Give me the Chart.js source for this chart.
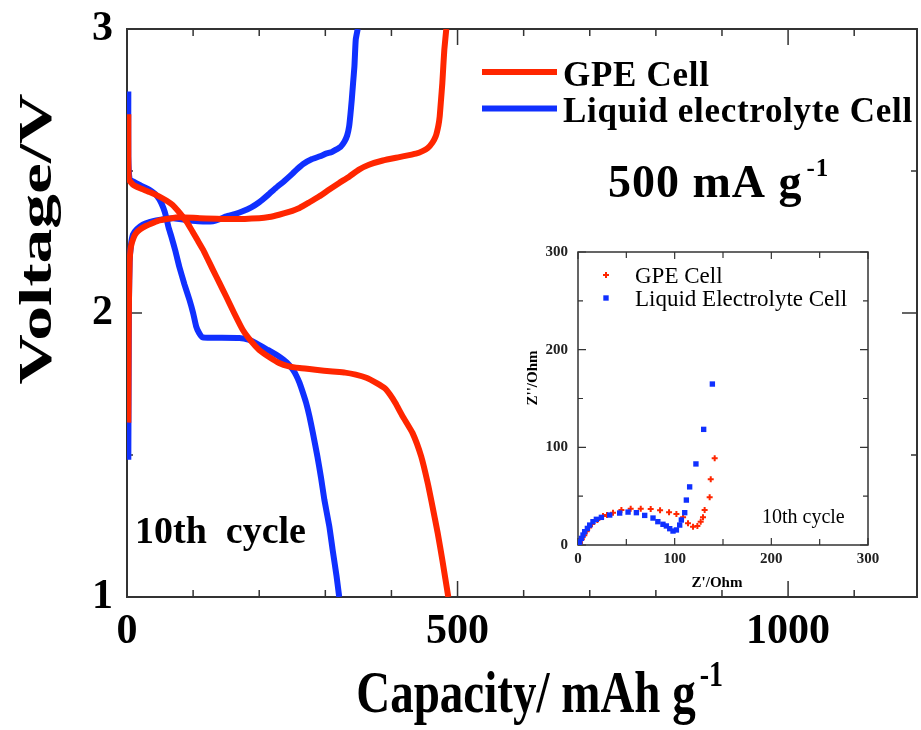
<!DOCTYPE html>
<html>
<head>
<meta charset="utf-8">
<title>GPE cell vs liquid electrolyte cell</title>
<script src="https://cdn.jsdelivr.net/npm/chart.js@4.4.1/dist/chart.umd.min.js"></script>
<style>
  html, body { margin: 0; padding: 0; background: #fff; }
  #wrap { position: relative; width: 921px; height: 730px; }
  #main { position: absolute; left: 0; top: 0; }
  #inset { position: absolute; left: 515px; top: 235px; }
</style>
</head>
<body>
<div id="wrap">
  <canvas id="main" width="921" height="730"></canvas>
  <canvas id="inset" width="375" height="370"></canvas>
</div>
<script>
var SERIF = '"Liberation Serif", "Times New Roman", serif';
var RED = '#ff2600';
var BLUE = '#1030ff';

// 10th cycle profiles at 500 mA/g (capacity mAh/g, voltage V)
var gpeDisCap = [2, 2, 3, 10, 19, 35, 49, 60, 69, 77, 84, 92, 99, 107, 115, 122, 130, 140, 150, 162, 175, 188, 200, 215, 230, 245, 261, 285, 311, 330, 346, 362, 377, 390, 398, 406, 417, 432, 445, 455, 462, 470, 477, 486];
var gpeDisV = [2.70, 2.55, 2.47, 2.45, 2.44, 2.425, 2.41, 2.395, 2.38, 2.36, 2.34, 2.315, 2.287, 2.255, 2.223, 2.19, 2.152, 2.105, 2.058, 2.0, 1.941, 1.90, 1.87, 1.845, 1.824, 1.812, 1.806, 1.80, 1.794, 1.79, 1.783, 1.772, 1.754, 1.735, 1.712, 1.683, 1.636, 1.577, 1.495, 1.40, 1.32, 1.225, 1.13, 1.0];
var gpeChgCap = [2, 2.5, 3, 4, 6, 10, 14, 20, 29, 40, 49, 65, 79, 110, 160, 200, 215, 230, 245, 261, 276, 291, 306, 321, 336, 351, 366, 387, 412, 437, 447, 455, 462, 467, 471, 473, 475, 477, 478.5, 480, 483];
var gpeChgV = [1.614, 1.9, 2.047, 2.18, 2.234, 2.265, 2.282, 2.295, 2.307, 2.318, 2.326, 2.333, 2.337, 2.334, 2.331, 2.334, 2.338, 2.346, 2.356, 2.37, 2.39, 2.411, 2.435, 2.458, 2.48, 2.505, 2.522, 2.537, 2.549, 2.561, 2.57, 2.581, 2.60, 2.622, 2.66, 2.692, 2.75, 2.81, 2.87, 2.927, 3.0];

var liqDisCap = [2, 2, 4, 9, 20, 34, 42, 49, 55, 59, 63, 67, 73, 79, 87, 94.5, 100, 104.6, 109, 114.6, 135, 170, 185, 195, 213, 230, 242, 251, 256, 261, 266, 271, 276, 281, 288, 293.5, 298.5, 306, 311, 317, 321];
var liqDisV = [2.78, 2.55, 2.47, 2.463, 2.45, 2.434, 2.42, 2.40, 2.37, 2.34, 2.30, 2.27, 2.22, 2.164, 2.10, 2.046, 2.0, 1.953, 1.93, 1.914, 1.913, 1.912, 1.905, 1.894, 1.87, 1.847, 1.825, 1.80, 1.78, 1.754, 1.72, 1.683, 1.636, 1.58, 1.495, 1.42, 1.343, 1.249, 1.167, 1.073, 1.0];
var liqChgCap = [2, 2.5, 3, 4, 6, 9, 15, 24, 34, 44, 69, 99, 115, 130, 140, 150, 163, 175, 188, 200, 213, 225, 238, 250, 258, 266, 280, 292, 301, 310, 316, 323, 329, 333, 336, 338, 340, 342, 344, 346, 349];
var liqChgV = [1.483, 1.8, 2.047, 2.18, 2.24, 2.276, 2.295, 2.311, 2.32, 2.326, 2.334, 2.325, 2.322, 2.323, 2.33, 2.34, 2.348, 2.358, 2.372, 2.39, 2.415, 2.44, 2.465, 2.49, 2.508, 2.524, 2.542, 2.552, 2.561, 2.567, 2.575, 2.585, 2.604, 2.625, 2.657, 2.70, 2.751, 2.81, 2.868, 2.962, 3.0];

// Nyquist plot after 10 cycles (Z' and -Z'' in Ohm)
var gpeZre = [2, 4, 6.5, 9, 11.5, 14.5, 20, 25.9, 30, 36.2, 44.9, 54.5, 64.9, 75.2, 84.9, 94.2, 101.8, 108.7, 113.8, 119, 123.5, 126.9, 129.3, 131, 136.2, 137.3, 141.4];
var gpeZim = [2, 6, 10, 14, 18, 21.5, 25.5, 29.7, 30.7, 33.1, 35.8, 37.2, 37.2, 36.9, 35.5, 33.5, 31.7, 28.3, 22.2, 18.8, 19.5, 23.9, 28.3, 35.8, 48.8, 67.2, 88.7];
var liqZre = [1, 1.8, 3.5, 5.2, 6.9, 9.7, 12.1, 15.5, 19, 24.2, 32.8, 43.1, 51.8, 60.4, 69, 77.6, 82.6, 87.9, 91.4, 94.9, 98.3, 101.8, 105.2, 106.9, 110.4, 112.1, 115.5, 122, 130, 139];
var liqZim = [1, 3.4, 6.8, 10.2, 13.6, 17, 20.4, 23.9, 26.3, 28.3, 30.7, 32.7, 33.7, 33.1, 30.3, 27.6, 23.9, 21.2, 19.5, 16.7, 14.3, 15.4, 20.4, 25.6, 33.1, 46, 59.5, 83, 118.4, 164.8];

// tick labels
var capTicks = [0, 500, 1000];
var voltTicks = [1, 2, 3];
var impTicks = [0, 100, 200, 300];

function pts(xs, ys) {
  return xs.map(function (x, i) { return { x: x, y: ys[i] }; });
}

function isMultiple(v, step) {
  var r = v / step;
  return Math.abs(r - Math.round(r)) < 1e-6;
}

function setTicks(list) {
  return function (scale) {
    scale.ticks = list.map(function (v) { return { value: v }; });
  };
}

// fixed axis box sizes, no extra room for overhanging labels
function fitWidth(w) {
  return function (s) { s.width = w; s.paddingTop = 0; s.paddingBottom = 0; };
}
function fitHeight(h) {
  return function (s) { s.height = h; s.paddingLeft = 0; s.paddingRight = 0; };
}

// box around the plot area with inward ticks on all four sides
var framePlugin = {
  id: 'frame',
  beforeDatasetsDraw: function (chart, args, o) {
    var ctx = chart.ctx, a = chart.chartArea;
    var sx = chart.scales.x, sy = chart.scales.y;
    var v, p, len;
    ctx.save();
    ctx.strokeStyle = o.color;
    ctx.lineWidth = o.width;
    ctx.strokeRect(a.left, a.top, a.right - a.left, a.bottom - a.top);
    ctx.lineWidth = o.tickWidth;
    ctx.beginPath();
    for (v = sx.min; v <= sx.max + 1e-9; v += o.xMinor) {
      p = sx.getPixelForValue(v);
      len = isMultiple(v, o.xMajor) ? o.xMajorLen : o.xMinorLen;
      ctx.moveTo(p, a.bottom); ctx.lineTo(p, a.bottom - len);
      ctx.moveTo(p, a.top); ctx.lineTo(p, a.top + len);
    }
    for (v = sy.min; v <= sy.max + 1e-9; v += o.yMinor) {
      p = sy.getPixelForValue(v);
      len = isMultiple(v, o.yMajor) ? o.yMajorLen : o.yMinorLen;
      ctx.moveTo(a.left, p); ctx.lineTo(a.left + len, p);
      ctx.moveTo(a.right, p); ctx.lineTo(a.right - len, p);
    }
    ctx.stroke();
    ctx.restore();
  }
};

// text with a raised "-1" exponent, left aligned at x
function expText(ctx, base, sup, x, y, size, supSize, rise) {
  ctx.font = 'bold ' + size + 'px ' + SERIF;
  ctx.fillText(base, x, y);
  var w = ctx.measureText(base).width;
  ctx.font = 'bold ' + supSize + 'px ' + SERIF;
  ctx.fillText(sup, x + w + 4, y - rise);
}

var mainNotes = {
  id: 'mainNotes',
  afterDraw: function (chart) {
    var ctx = chart.ctx;
    ctx.save();
    ctx.fillStyle = '#000';
    ctx.textAlign = 'left';
    ctx.textBaseline = 'alphabetic';

    // legend, one entry per cell
    var ly = 72;
    ctx.letterSpacing = '0.7px';
    chart.data.datasets.forEach(function (ds) {
      if (!ds.label) return;
      ctx.strokeStyle = ds.borderColor;
      ctx.lineWidth = 6;
      ctx.beginPath();
      ctx.moveTo(482, ly);
      ctx.lineTo(557, ly);
      ctx.stroke();
      ctx.font = 'bold 35px ' + SERIF;
      ctx.fillText(ds.label, 563, ly + 13.5);
      ly += 36.5;
    });

    ctx.letterSpacing = '1px';
    expText(ctx, '500 mA g', '-1', 608, 197, 46, 25, 21);
    ctx.letterSpacing = '0px';

    ctx.font = 'bold 38px ' + SERIF;
    ctx.fillText('10th  cycle', 135, 543);

    // x axis title, slightly tall lettering
    ctx.save();
    ctx.translate(0, 712);
    ctx.scale(1, 1.25);
    ctx.font = 'bold 47px ' + SERIF;
    var wt = ctx.measureText('Capacity/ mAh g').width;
    expText(ctx, 'Capacity/ mAh g', '-1', 542 - (wt + 32) / 2, 0, 47, 28, 21);
    ctx.restore();

    // y axis title, drawn stretched along its length
    ctx.save();
    ctx.translate(51, 239);
    ctx.rotate(-Math.PI / 2);
    ctx.scale(1.48, 1);
    ctx.textAlign = 'center';
    ctx.font = 'bold 47px ' + SERIF;
    ctx.fillText('Voltage/V', 0, 0);
    ctx.restore();

    ctx.restore();
  }
};

var insetNotes = {
  id: 'insetNotes',
  afterDraw: function (chart) {
    var ctx = chart.ctx;
    ctx.save();
    ctx.fillStyle = '#000';
    ctx.textBaseline = 'alphabetic';

    // legend with the same markers as the data
    var ly = 40;
    chart.data.datasets.slice().reverse().forEach(function (ds) {
      ctx.fillStyle = ds.backgroundColor;
      ctx.strokeStyle = ds.borderColor;
      ctx.lineWidth = ds.borderWidth;
      Chart.helpers.drawPoint(ctx, {
        pointStyle: ds.pointStyle, radius: ds.pointRadius, rotation: 0, borderWidth: ds.borderWidth
      }, 91, ly);
      ctx.fillStyle = '#000';
      ctx.font = '23px ' + SERIF;
      ctx.textAlign = 'left';
      ctx.fillText(ds.label, 120, ly + 8);
      ly += 23;
    });

    ctx.font = '20px ' + SERIF;
    ctx.fillText('10th cycle', 247, 288);

    ctx.font = 'bold 15px ' + SERIF;
    ctx.textAlign = 'center';
    ctx.fillText("Z'/Ohm", 202, 352);

    ctx.save();
    ctx.translate(22, 143);
    ctx.rotate(-Math.PI / 2);
    ctx.fillText("Z''/Ohm", 0, 0);
    ctx.restore();

    ctx.restore();
  }
};

var tickFont = { family: SERIF, size: 42, weight: 'bold' };

new Chart(document.getElementById('main').getContext('2d'), {
  type: 'scatter',
  data: {
    datasets: [
      { label: 'GPE Cell', data: pts(gpeDisCap, gpeDisV), borderColor: RED },
      { data: pts(gpeChgCap, gpeChgV), borderColor: RED },
      { label: 'Liquid electrolyte Cell', data: pts(liqDisCap, liqDisV), borderColor: BLUE },
      { data: pts(liqChgCap, liqChgV), borderColor: BLUE }
    ].map(function (ds) {
      ds.showLine = true;
      ds.borderWidth = 6;
      ds.pointRadius = 0;
      ds.tension = 0.15;
      ds.borderJoinStyle = 'round';
      return ds;
    })
  },
  options: {
    responsive: false,
    animation: false,
    events: [],
    layout: { padding: { top: 29, right: 4, left: 0, bottom: 0 } },
    plugins: {
      legend: { display: false },
      tooltip: { enabled: false },
      frame: {
        color: '#333', width: 2, tickWidth: 1.5,
        xMinor: 100, xMajor: 500, xMinorLen: 7, xMajorLen: 16,
        yMinor: 0.5, yMajor: 1, yMinorLen: 6, yMajorLen: 15
      }
    },
    scales: {
      x: {
        type: 'linear', min: 0, max: 1195,
        afterBuildTicks: setTicks(capTicks),
        afterFit: fitHeight(133),
        grid: { display: false, drawTicks: false },
        border: { display: false },
        ticks: { padding: 10, color: '#000', font: tickFont, maxRotation: 0,
          callback: function (v) { return String(v); } }
      },
      y: {
        type: 'linear', min: 1, max: 3,
        afterBuildTicks: setTicks(voltTicks),
        afterFit: fitWidth(127),
        grid: { display: false, drawTicks: false },
        border: { display: false },
        ticks: { padding: 14, color: '#000', font: tickFont,
          callback: function (v) { return String(v); } }
      }
    }
  },
  plugins: [framePlugin, mainNotes]
});

var insetFont = { family: SERIF, size: 15, weight: 'bold' };

new Chart(document.getElementById('inset').getContext('2d'), {
  type: 'scatter',
  data: {
    datasets: [
      { label: 'Liquid Electrolyte Cell', data: pts(liqZre, liqZim), pointStyle: 'rect',
        pointRadius: 3.8, backgroundColor: BLUE, borderColor: BLUE, borderWidth: 0 },
      { label: 'GPE Cell', data: pts(gpeZre, gpeZim), pointStyle: 'cross',
        pointRadius: 3, backgroundColor: RED, borderColor: RED, borderWidth: 2 }
    ]
  },
  options: {
    responsive: false,
    animation: false,
    events: [],
    layout: { padding: { top: 17, right: 22, left: 0, bottom: 0 } },
    plugins: {
      legend: { display: false },
      tooltip: { enabled: false },
      frame: {
        color: '#333', width: 1.5, tickWidth: 1.2,
        xMinor: 50, xMajor: 100, xMinorLen: 6, xMajorLen: 7,
        yMinor: 50, yMajor: 100, yMinorLen: 5, yMajorLen: 8
      }
    },
    scales: {
      x: {
        type: 'linear', min: 0, max: 300,
        afterBuildTicks: setTicks(impTicks),
        afterFit: fitHeight(60),
        grid: { display: false, drawTicks: false },
        border: { display: false },
        ticks: { padding: 5, color: '#222', font: insetFont, maxRotation: 0 }
      },
      y: {
        type: 'linear', min: 0, max: 300,
        afterBuildTicks: setTicks(impTicks),
        afterFit: fitWidth(63),
        grid: { display: false, drawTicks: false },
        border: { display: false },
        ticks: { padding: 10, color: '#222', font: insetFont }
      }
    }
  },
  plugins: [framePlugin, insetNotes]
});
</script>
</body>
</html>
